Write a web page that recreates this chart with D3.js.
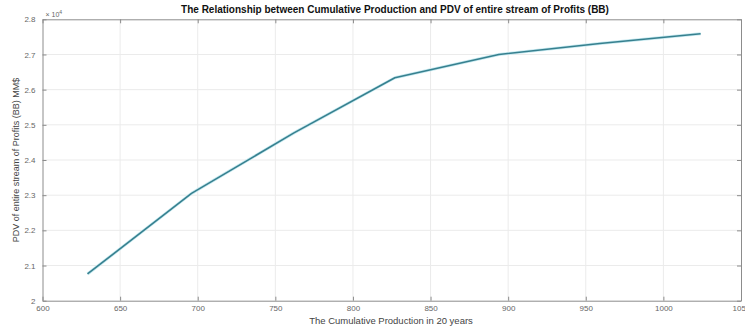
<!DOCTYPE html>
<html>
<head>
<meta charset="utf-8">
<script src="https://cdn.jsdelivr.net/npm/d3@7/dist/d3.min.js"></script>
<style>
  html, body { margin: 0; padding: 0; background: #fff; }
  svg { display: block; }
  text { font-family: "Liberation Sans", Arial, sans-serif; }
</style>
</head>
<body>
<svg id="chart" width="745" height="326"></svg>
<script>
// Cumulative production (20 years) and present discounted value of profits
const production = [629, 696, 762, 827, 894, 959, 1024];
const pdv = [20760, 23050, 24770, 26340, 27000, 27310, 27590];
const xTicks = [600, 650, 700, 750, 800, 850, 900, 950, 1000, 1050];
const yTicks = [20000, 21000, 22000, 23000, 24000, 25000, 26000, 27000, 28000];

const titleText = "The Relationship between Cumulative Production and PDV of entire stream of Profits (BB)";
const xLabelText = "The Cumulative Production in 20 years";
const yLabelText = "PDV of entire stream of Profits (BB) MM$";

const svg = d3.select("#chart");
const plotL = 42.5, plotR = 741, plotT = 19.3, plotB = 300.7;

const x = d3.scaleLinear().domain([600, 1050]).range([plotL, plotR]);
const y = d3.scaleLinear().domain([20000, 28000]).range([plotB, plotT]);

const axisColor = "#8c8c8c";
const gridColor = "#ebebeb";
const tickLen = 4;

// grid
const grid = svg.append("g");
grid.selectAll(".gx").data(xTicks.slice(1, -1)).enter().append("line")
  .attr("x1", d => x(d)).attr("x2", d => x(d))
  .attr("y1", plotT).attr("y2", plotB)
  .attr("stroke", gridColor).attr("stroke-width", 1);
grid.selectAll(".gy").data(yTicks.slice(1, -1)).enter().append("line")
  .attr("x1", plotL).attr("x2", plotR)
  .attr("y1", d => y(d)).attr("y2", d => y(d))
  .attr("stroke", gridColor).attr("stroke-width", 1);

// axes: ticks point inward, labels outside
const fmtY = d => String(+(d / 10000).toFixed(1));
const fmtX = d3.format("d");
const axisBottomG = svg.append("g").attr("transform", `translate(0,${plotB})`)
  .call(d3.axisBottom(x).tickValues(xTicks).tickFormat(fmtX).tickSizeInner(-tickLen).tickSizeOuter(0).tickPadding(4.5));
const axisLeftG = svg.append("g").attr("transform", `translate(${plotL},0)`)
  .call(d3.axisLeft(y).tickValues(yTicks).tickFormat(fmtY).tickSizeInner(-tickLen).tickSizeOuter(0).tickPadding(7));
const axisTopG = svg.append("g").attr("transform", `translate(0,${plotT})`)
  .call(d3.axisTop(x).tickValues(xTicks).tickSizeInner(-tickLen).tickSizeOuter(0).tickFormat(""));
const axisRightG = svg.append("g").attr("transform", `translate(${plotR},0)`)
  .call(d3.axisRight(y).tickValues(yTicks).tickSizeInner(-tickLen).tickSizeOuter(0).tickFormat(""));

[axisBottomG, axisLeftG, axisTopG, axisRightG].forEach(g => {
  g.selectAll("path.domain").attr("stroke", axisColor).attr("stroke-width", 1);
  g.selectAll(".tick line").attr("stroke", axisColor);
  g.selectAll(".tick text").attr("fill", "#666").attr("font-size", 8)
    .attr("font-family", "'Liberation Sans', Arial, sans-serif");
});

// exponent marker
const ex = svg.append("text").attr("x", plotL + 3).attr("y", plotT - 2.5)
  .attr("font-size", 7).attr("fill", "#666");
ex.append("tspan").text("\u00d7 10");
ex.append("tspan").attr("dy", -3).attr("font-size", 5).text("4");

// data line
const line = d3.line().x((d, i) => x(production[i])).y(d => y(d));
svg.append("path").datum(pdv)
  .attr("d", line).attr("fill", "none")
  .attr("stroke", "#c6e9f0").attr("stroke-width", 3)
  .attr("stroke-linejoin", "round");
svg.append("path").datum(pdv)
  .attr("d", line).attr("fill", "none")
  .attr("stroke", "#37808f").attr("stroke-width", 1.6)
  .attr("stroke-linejoin", "round");

// title and labels
svg.append("text").attr("x", 395).attr("y", 12.5).attr("text-anchor", "middle")
  .attr("font-size", 10).attr("font-weight", "bold").attr("fill", "#111").text(titleText);
svg.append("text").attr("x", 391).attr("y", 323.5).attr("text-anchor", "middle")
  .attr("font-size", 9.5).attr("fill", "#444").text(xLabelText);
svg.append("text").attr("transform", `translate(19,${(plotT + plotB) / 2}) rotate(-90)`)
  .attr("text-anchor", "middle").attr("font-size", 9).attr("fill", "#444").text(yLabelText);
</script>
</body>
</html>
